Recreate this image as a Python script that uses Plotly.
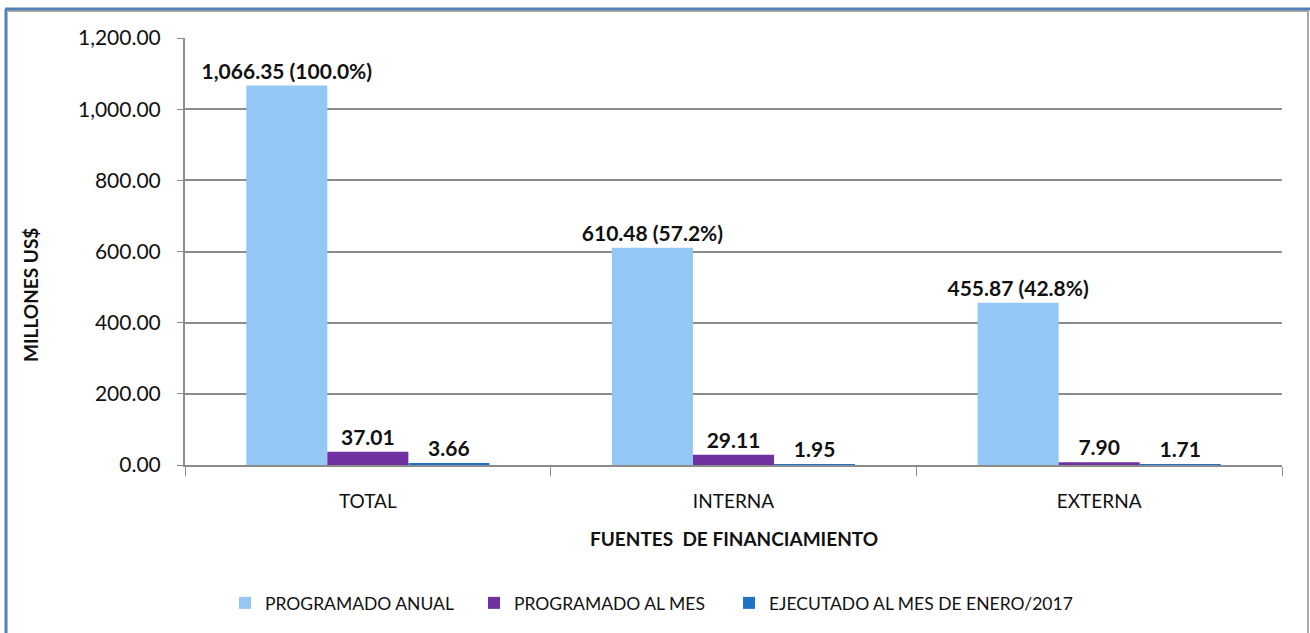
import plotly.graph_objects as go


# data
fuentes = ['TOTAL', 'INTERNA', 'EXTERNA']
programado_anual = [1066.35, 610.48, 455.87]
porcentaje_anual = [100.0, 57.2, 42.8]
programado_mes = [37.01, 29.11, 7.90]
ejecutado_mes = [3.66, 1.95, 1.71]

FONT = 'Lato, Calibri, Arial, sans-serif'

# plot area in pixels (used to place the frame lines, titles and legends)
W, H = 1310, 633
L, R, T, B = 185, 28, 38, 168
PW, PH = W - L - R, H - T - B


def px(x):
    return (x - L) / PW


def py(y):
    return (H - B - y) / PH


fig = go.Figure()

fig.add_trace(go.Bar(
    x=fuentes, y=programado_anual, name='PROGRAMADO ANUAL', legend='legend',
    marker=dict(color='#95C7F5', line=dict(width=0)),
    text=[f'{v:,.2f} ({p:.1f}%)' for v, p in zip(programado_anual, porcentaje_anual)],
))
fig.add_trace(go.Bar(
    x=fuentes, y=programado_mes, name='PROGRAMADO AL MES', legend='legend2',
    marker=dict(color='#7030A0', line=dict(width=0)),
    text=[f'{v:,.2f}' for v in programado_mes],
))
fig.add_trace(go.Bar(
    x=fuentes, y=ejecutado_mes, name='EJECUTADO AL MES DE ENERO/2017', legend='legend3',
    marker=dict(color='#1F72C6', line=dict(width=0)),
    text=[f'{v:,.2f}' for v in ejecutado_mes],
))

fig.update_traces(textposition='outside', cliponaxis=False, constraintext='none',
                  textfont=dict(family=FONT, size=21, color='#111111'),
                  texttemplate='<b>%{text}</b>')


# one legend per series so each entry sits where the reference has it
def legend_at(text_x):
    return dict(orientation='h', x=px(text_x - 41), xanchor='left',
                y=py(603), yanchor='middle', font=dict(size=17.5),
                itemwidth=30, bgcolor='rgba(0,0,0,0)')


fig.update_layout(
    width=W, height=H,
    margin=dict(l=L, r=R, t=T, b=B, autoexpand=False),
    paper_bgcolor='white', plot_bgcolor='white',
    barmode='group', bargap=0.335, bargroupgap=0,
    font=dict(family=FONT, size=19, color='#111111'),
    showlegend=True,
    legend=legend_at(266),
    legend2=legend_at(515),
    legend3=legend_at(770),
    xaxis=dict(
        showgrid=False, showline=True, linecolor='#8C8C8C', linewidth=2,
        ticks='outside', tickson='boundaries', ticklen=9, tickcolor='#8C8C8C',
        tickfont=dict(size=19), ticklabelstandoff=18, automargin=False,
    ),
    yaxis=dict(
        range=[0, 1200], dtick=200, tickformat=',.2f',
        showgrid=True, gridcolor='#8C8C8C', gridwidth=2,
        showline=True, linecolor='#8C8C8C', linewidth=2,
        ticks='outside', ticklen=6, tickcolor='#8C8C8C',
        tickfont=dict(size=21), zeroline=False, ticklabelstandoff=12,
        automargin=False,
    ),
)

# axis titles
fig.add_annotation(text='<b>FUENTES  DE FINANCIAMIENTO</b>', xref='paper', yref='paper',
                   x=px(734), y=py(538), xanchor='center', yanchor='middle',
                   showarrow=False, font=dict(size=19))
fig.add_annotation(text='<b>MILLONES US$</b>', xref='paper', yref='paper',
                   x=px(30), y=py(295), xanchor='center', yanchor='middle',
                   showarrow=False, textangle=-90, font=dict(size=19))

# chart frame
fig.add_shape(type='line', xref='paper', yref='paper',
              x0=px(5), x1=px(W), y0=py(9), y1=py(9),
              line=dict(color='#4F81BD', width=3))
fig.add_shape(type='line', xref='paper', yref='paper',
              x0=px(8), x1=px(1308), y0=py(11), y1=py(11),
              line=dict(color='#8C8C8C', width=1.5))
fig.add_shape(type='line', xref='paper', yref='paper',
              x0=px(6), x1=px(6), y0=py(9), y1=py(H),
              line=dict(color='#4F81BD', width=3))
fig.add_shape(type='line', xref='paper', yref='paper',
              x0=px(1308), x1=px(1308), y0=py(11), y1=py(H),
              line=dict(color='#8C8C8C', width=1.5))

# drop the default body margin so the figure sits at the window's corner
fig.write_html("out.html", config={'displayModeBar': False},
               post_script="document.body.style.margin = '0';")
